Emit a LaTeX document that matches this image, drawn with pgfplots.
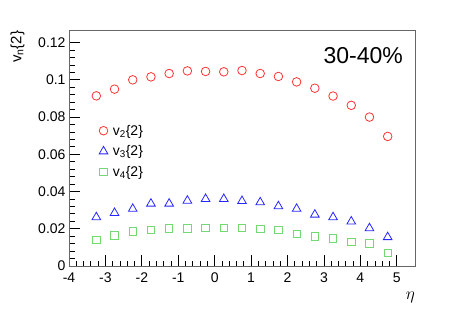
\documentclass[border=0pt]{standalone}
\usepackage{fontspec}
\setmainfont{Liberation Sans}
\usepackage{pgfplots}
\pgfplotsset{compat=1.18}
\definecolor{rred}{rgb}{1,0.2,0.2}
\definecolor{rblue}{rgb}{0.15,0.15,1}
\definecolor{rgreen}{rgb}{0.45,0.85,0.45}
\begin{document}
\begin{tikzpicture}[x=1pt,y=1pt]
\path[use as bounding box] (0,0) rectangle (463,314);
\begin{axis}[
  at={(69pt,48pt)}, anchor=south west,
  scale only axis, width=346pt, height=235.5pt,
  xmin=-4, xmax=5.5, ymin=0, ymax=0.1265,
  axis line style={draw=black!60, line width=0.8pt},
  xtick={-4,-3,...,5}, ytick={0,0.02,...,0.12},
  minor x tick num=4, minor y tick num=4,
  tick align=inside, xtick pos=bottom, ytick pos=left,
  major tick length=11pt, minor tick length=5.5pt,
  tick style={black, line width=0.8pt},
  /pgf/number format/assume math mode=true,
  yticklabel style={/pgf/number format/fixed, /pgf/number format/precision=2},
  xticklabel style={yshift=-3pt},
  ticklabel style={font=\fontsize{14}{16}\selectfont},
  scaled y ticks=false,
  legend style={draw=none, fill=none, at={(rel axis cs:0.078,0.617)}, anchor=north west,
    font=\fontsize{14}{18}\selectfont, row sep=5pt,
    /tikz/every odd column/.append style={column sep=3pt}},
  legend cell align=left,
  clip=false,
]
\addplot[only marks, mark=o, mark size=4.3pt, rred, line width=0.8pt] coordinates {
(-3.25,0.0914)(-2.75,0.0950)(-2.25,0.1000)(-1.75,0.1016)(-1.25,0.1034)(-0.75,0.1048)
(-0.25,0.1045)(0.25,0.1043)(0.75,0.1050)(1.25,0.1034)(1.75,0.1018)(2.25,0.0989)
(2.75,0.0955)(3.25,0.0913)(3.75,0.0863)(4.25,0.0800)(4.75,0.0696)};
\addlegendentry{v\textsubscript{2}\{2\}}
\addplot[only marks, mark=triangle, mark size=5pt, rblue, line width=0.8pt] coordinates {
(-3.25,0.0262)(-2.75,0.0285)(-2.25,0.0307)(-1.75,0.0335)(-1.25,0.0335)(-0.75,0.0351)
(-0.25,0.0360)(0.25,0.0360)(0.75,0.0349)(1.25,0.0342)(1.75,0.0321)(2.25,0.0307)
(2.75,0.0276)(3.25,0.0262)(3.75,0.0239)(4.25,0.0203)(4.75,0.0155)};
\addlegendentry{v\textsubscript{3}\{2\}}
\addplot[only marks, mark=square, mark size=3.7pt, rgreen, line width=0.8pt] coordinates {
(-3.25,0.0141)(-2.75,0.0164)(-2.25,0.0186)(-1.75,0.0193)(-1.25,0.0202)(-0.75,0.0202)
(-0.25,0.0204)(0.25,0.0205)(0.75,0.0205)(1.25,0.0200)(1.75,0.0195)(2.25,0.0173)
(2.75,0.0159)(3.25,0.0148)(3.75,0.0130)(4.25,0.0121)(4.75,0.0071)};
\addlegendentry{v\textsubscript{4}\{2\}}
\node[anchor=east, font=\fontsize{23}{26}\selectfont] at (rel axis cs:0.975,0.893) {30-40\%};
\node[anchor=north east, font=\fontsize{16}{18}\selectfont, inner sep=0pt] at (rel axis cs:1,-0.11) {$\eta$};
\node[anchor=north east, rotate=90, font=\fontsize{15}{18}\selectfont, inner sep=0pt] at (rel axis cs:-0.17,1.0) {v\textsubscript{n}\{2\}};
\end{axis}
\end{tikzpicture}
\end{document}
